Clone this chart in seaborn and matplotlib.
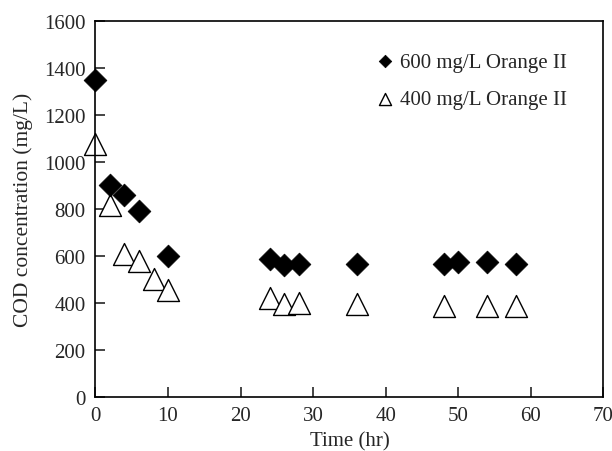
import matplotlib
matplotlib.use("Agg")
import matplotlib.pyplot as plt
import seaborn as sns
import pandas as pd

# data
time_600 = [0, 2, 4, 6, 10, 24, 26, 28, 36, 48, 50, 54, 58]
cod_600 = [1350, 900, 860, 790, 600, 585, 560, 565, 565, 565, 575, 575, 565]
time_400 = [0, 2, 4, 6, 8, 10, 24, 26, 28, 36, 48, 54, 58]
cod_400 = [1078, 815, 610, 580, 500, 455, 420, 395, 400, 395, 385, 385, 385]
labels = ["600 mg/L Orange II", "400 mg/L Orange II"]

df600 = pd.DataFrame({"Time": time_600, "COD": cod_600})
df400 = pd.DataFrame({"Time": time_400, "COD": cod_400})

sns.set_style("ticks")
plt.rcParams["font.family"] = ["Liberation Serif", "DejaVu Serif"]

fig = plt.figure(figsize=(6.12, 4.52), dpi=100)
ax = fig.add_axes([0.156, 0.120, 0.830, 0.831])

sns.scatterplot(data=df600, x="Time", y="COD", marker="D", s=135,
                color="black", edgecolor="black", linewidth=0.5,
                label=labels[0], ax=ax, zorder=3, clip_on=False)
sns.scatterplot(data=df400, x="Time", y="COD", marker="^", s=250,
                facecolor="white", edgecolor="black", linewidth=1.0,
                label=labels[1], ax=ax, zorder=2, clip_on=False)

ax.set_xlim(0, 70)
ax.set_ylim(0, 1600)
ax.set_xticks(range(0, 71, 10))
ax.set_yticks(range(0, 1601, 200))
ax.set_xlabel("Time (hr)", fontsize=15, labelpad=4)
ax.set_ylabel("COD concentration (mg/L)", fontsize=15.5, labelpad=8)
ax.tick_params(direction="in", length=7, width=1.2, labelsize=15,
               top=False, right=False, pad=7)
for sp in ax.spines.values():
    sp.set_linewidth(1.2)
    sp.set_color("black")

ax.legend(loc="upper left", bbox_to_anchor=(0.509, 0.967), frameon=False,
          fontsize=15, markerscale=0.55, handletextpad=0.1,
          labelspacing=0.85, handlelength=1.2)

fig.savefig("out.png", dpi=100)
